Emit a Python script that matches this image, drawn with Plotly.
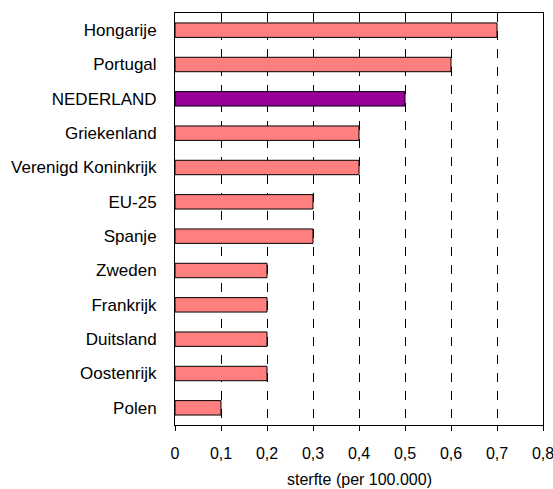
import plotly.graph_objects as go

countries = ["Hongarije", "Portugal", "NEDERLAND", "Griekenland", "Verenigd Koninkrijk",
             "EU-25", "Spanje", "Zweden", "Frankrijk", "Duitsland", "Oostenrijk", "Polen"]
values = [0.7, 0.6, 0.5, 0.4, 0.4, 0.3, 0.3, 0.2, 0.2, 0.2, 0.2, 0.1]
tick_vals = [0, 0.1, 0.2, 0.3, 0.4, 0.5, 0.6, 0.7, 0.8]
tick_text = ["0", "0,1", "0,2", "0,3", "0,4", "0,5", "0,6", "0,7", "0,8"]
x_title = "sterfte (per 100.000)"

colors = ["#990099" if c == "NEDERLAND" else "#FF7F7F" for c in countries]

fig = go.Figure(go.Bar(
    x=values, y=countries, orientation="h",
    marker=dict(color=colors, line=dict(color="black", width=1)),
    width=0.42,
))

fig.update_layout(
    width=553, height=489,
    margin=dict(l=175, r=10, t=13, b=64),
    paper_bgcolor="white", plot_bgcolor="white",
    font=dict(family="Liberation Sans, Arial", size=17, color="black"),
    showlegend=False,
)
fig.update_xaxes(
    range=[0, 0.8], tickvals=tick_vals, ticktext=tick_text,
    tickfont=dict(size=16),
    showgrid=True, gridcolor="black", griddash="dash", gridwidth=1,
    showline=True, linecolor="black", linewidth=1, mirror=True,
    ticks="outside", ticklen=5, tickcolor="black", ticklabelstandoff=9,
    ticklabeloverflow="allow",
    zeroline=False, automargin=False,
)
fig.update_yaxes(
    categoryorder="array", categoryarray=countries[::-1],
    showline=True, linecolor="black", linewidth=1, mirror=True,
    ticks="", ticklabelstandoff=14, showgrid=False, automargin=False,
)
fig.add_annotation(
    text=x_title, xref="paper", yref="paper", x=0.5, y=0,
    xanchor="center", yanchor="middle", yshift=-54, showarrow=False,
    font=dict(size=16),
)

fig.write_html("out.html", config={"displayModeBar": False},
               post_script="document.body.style.margin='0';")
